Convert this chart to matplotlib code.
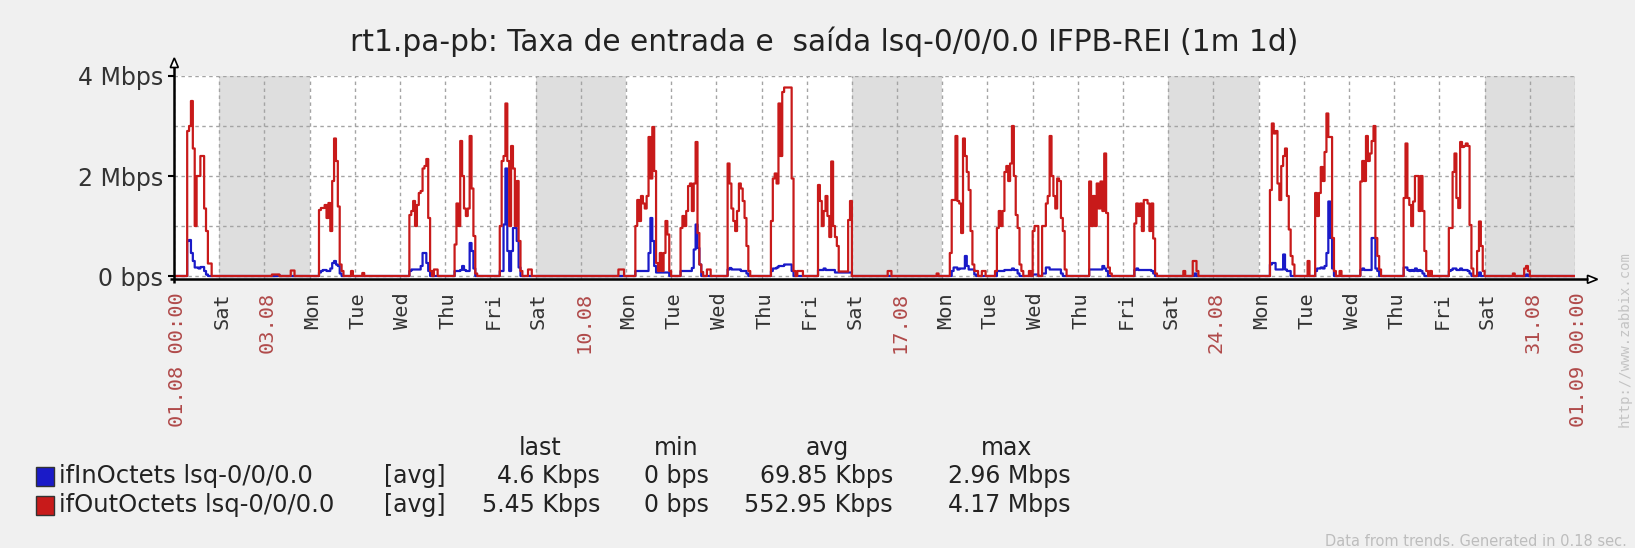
import numpy as np
import matplotlib
matplotlib.use("Agg")
import matplotlib.pyplot as plt
from matplotlib import patches, transforms

# ---- data (Mbps, hourly trend values) ----
# (day of August, first hour, ifOutOctets values, ifInOctets values)
out_01 = [2.9, 3.0, 3.5, 2.55, 1.0, 2.0, 2.0, 2.4, 2.4, 1.35, 0.9, 0.25, 0.25]
in_01 = [0.70, 0.72, 0.46, 0.30, 0.17, 0.17, 0.15, 0.18, 0.18, 0.10, 0.03, 0, 0]
out_04 = [1.32, 1.36, 1.36, 1.42, 1.16, 1.46, 0.9, 1.9, 2.75, 2.3, 1.39, 0.23, 0.1]
in_04 = [0.07, 0.10, 0.12, 0.12, 0.10, 0.10, 0.15, 0.26, 0.30, 0.23, 0.20, 0.05, 0]
out_06 = [1.22, 1.3, 1.5, 1.0, 1.42, 1.66, 1.7, 2.15, 2.2, 2.34, 1.16, 0.1, 0, 0.13, 0.13]
in_06 = [0.10, 0.13, 0.13, 0.13, 0.13, 0.13, 0.20, 0.46, 0.46, 0.26, 0.10, 0, 0, 0, 0]
out_07 = [0.63, 1.45, 1.0, 2.7, 2.0, 1.35, 1.2, 1.35, 2.8, 1.75, 0.8, 0.05]
in_07 = [0.10, 0.10, 0.10, 0.12, 0.20, 0.12, 0.10, 0.10, 0.66, 0.50, 0.15, 0]
out_08 = [1.0, 2.3, 2.4, 3.45, 2.3, 1.0, 2.6, 2.15, 1.0, 1.9, 0.7, 0.1, 0, 0, 0, 0.13, 0.13]
in_08 = [0.10, 0.10, 1.03, 2.15, 0.50, 0.10, 0.50, 0.96, 0.96, 0.70, 0.17, 0, 0, 0, 0, 0, 0]
out_11 = [1.0, 1.52, 1.1, 1.6, 1.45, 1.35, 1.6, 2.78, 1.95, 2.98, 2.1, 0.26, 0.1, 0.46, 0.1, 0.46, 1.1, 0.83, 0.1]
in_11 = [0.10, 0.10, 0.10, 0.10, 0.10, 0.10, 0.10, 0.46, 1.16, 0.70, 0.20, 0.07, 0.07, 0.07, 0.07, 0.07, 0.07, 0.07, 0]
out_12 = [0.96, 1.2, 1.0, 1.3, 1.8, 1.85, 1.3, 1.85, 2.68, 0.86, 0.23, 0.08, 0, 0, 0.13, 0.13]
in_12 = [0.10, 0.10, 0.10, 0.10, 0.10, 0.10, 0.16, 0.53, 1.03, 0.56, 0.23, 0, 0, 0, 0, 0]
out_13 = [2.25, 1.85, 1.35, 1.1, 0.9, 1.3, 1.85, 1.75, 1.5, 1.16, 0.6, 0.1]
in_13 = [0.13, 0.16, 0.13, 0.13, 0.13, 0.13, 0.13, 0.10, 0.10, 0.10, 0.05, 0]
out_14 = [1.1, 1.95, 2.05, 1.85, 3.45, 2.4, 3.68, 3.77, 3.77, 3.77, 3.77, 1.95, 0.1, 0, 0.1, 0.1, 0.1]
in_14 = [0.10, 0.15, 0.15, 0.17, 0.20, 0.20, 0.20, 0.23, 0.23, 0.23, 0.23, 0.10, 0, 0, 0, 0, 0]
out_15 = [1.82, 1.5, 1.0, 1.3, 1.6, 1.2, 0.78, 2.29, 1.0, 0.78, 0.6, 0.09, 0.09, 0.09, 0.09, 0.09, 1.12, 1.5]
in_15 = [0.12, 0.12, 0.12, 0.15, 0.12, 0.12, 0.12, 0.12, 0.12, 0.07, 0.07, 0.07, 0.07, 0.07, 0.07, 0.07, 0.07, 0.07]
out_18 = [0.46, 1.52, 1.52, 2.8, 1.5, 1.45, 0.86, 2.75, 2.4, 2.08, 1.72, 0.9, 0.23, 0.1, 0.1, 0, 0, 0.1, 0.1]
in_18 = [0, 0.10, 0.17, 0.17, 0.13, 0.15, 0.15, 0.15, 0.40, 0.20, 0.13, 0.13, 0.13, 0.03, 0, 0, 0, 0, 0]
out_19 = [0.1, 0.96, 1.3, 1.0, 1.3, 2.08, 2.2, 1.9, 2.25, 3.0, 2.0, 1.22, 0.96, 0.23, 0.1]
in_19 = [0, 0.10, 0.10, 0.10, 0.10, 0.12, 0.12, 0.12, 0.12, 0.15, 0.12, 0.12, 0.05, 0, 0]
out_20 = [0.9, 1.0, 1.0, 0, 0, 1.0, 1.0, 1.45, 1.6, 2.8, 2.0, 1.6, 1.35, 1.95, 1.9, 1.16, 0.9, 0.13]
in_20 = [0.03, 0.03, 0.03, 0, 0, 0.05, 0.05, 0.17, 0.17, 0.13, 0.13, 0.13, 0.13, 0.13, 0.13, 0.05, 0, 0]
out_21 = [1.89, 1.0, 1.6, 1.0, 1.85, 1.35, 1.89, 1.3, 2.45, 1.26, 0.17, 0.05]
in_21 = [0.13, 0.13, 0.13, 0.13, 0.13, 0.13, 0.13, 0.20, 0.15, 0.10, 0, 0]
out_22 = [1.05, 1.45, 1.2, 1.45, 0.9, 1.52, 1.52, 1.45, 0.9, 1.45, 0.75, 0.05]
in_22 = [0.12, 0.15, 0.12, 0.12, 0.12, 0.12, 0.12, 0.12, 0.12, 0.10, 0.05, 0]
out_25 = [1.72, 3.05, 2.85, 2.9, 1.85, 1.52, 2.2, 2.4, 2.55, 1.6, 0.93, 0.4, 0.23]
in_25 = [0.23, 0.26, 0.26, 0.13, 0.13, 0.13, 0.13, 0.43, 0.13, 0.10, 0.10, 0, 0]
out_26 = [0.3, 0, 0, 0, 1.66, 1.2, 1.66, 2.18, 1.9, 2.48, 3.25, 2.78, 2.78, 0.76, 0.1, 0, 0, 0.1]
in_26 = [0, 0, 0, 0, 0.10, 0.15, 0.15, 0.17, 0.15, 0.20, 0.46, 1.49, 0.76, 0.15, 0, 0, 0, 0]
out_27 = [1.89, 2.3, 1.9, 2.8, 2.3, 2.45, 2.7, 3.0, 0.76, 0.4, 0.13, 0]
in_27 = [0.12, 0.15, 0.12, 0.12, 0.12, 0.12, 0.76, 0.76, 0.15, 0.10, 0, 0]
out_28 = [1.56, 2.65, 1.56, 1.42, 1.0, 1.49, 2.0, 2.0, 1.3, 2.0, 1.3, 0.5, 0.1, 0, 0.1]
in_28 = [0.17, 0.17, 0.12, 0.10, 0.12, 0.10, 0.15, 0.10, 0.12, 0.10, 0.05, 0, 0, 0, 0]
out_29 = [0.96, 0.96, 2.08, 2.45, 1.56, 1.36, 2.68, 2.58, 2.6, 2.65, 2.6, 1.02, 0.15, 0, 0, 0.5, 1.09, 0.6, 0.1]
in_29 = [0.10, 0.12, 0.15, 0.15, 0.12, 0.12, 0.15, 0.12, 0.12, 0.12, 0.10, 0.05, 0, 0, 0, 0, 0.07, 0, 0]

work_days = [
    (1, 7, out_01, in_01), (4, 5, out_04, in_04), (6, 5, out_06, in_06),
    (7, 5, out_07, in_07), (8, 5, out_08, in_08), (11, 5, out_11, in_11),
    (12, 5, out_12, in_12), (13, 6, out_13, in_13), (14, 5, out_14, in_14),
    (15, 6, out_15, in_15), (18, 4, out_18, in_18), (19, 4, out_19, in_19),
    (20, 0, out_20, in_20), (21, 6, out_21, in_21), (22, 6, out_22, in_22),
    (25, 6, out_25, in_25), (26, 2, out_26, in_26), (27, 6, out_27, in_27),
    (28, 5, out_28, in_28), (29, 5, out_29, in_29),
]

# small isolated values (day, hour, Mbps)
out_blips = [(3, 4, 0.03), (3, 5, 0.03), (3, 6, 0.03), (3, 7, 0.03), (3, 14, 0.11),
             (3, 15, 0.11), (4, 22, 0.1), (5, 4, 0.06), (10, 20, 0.13), (10, 21, 0.13),
             (10, 22, 0.13), (16, 19, 0.1), (16, 20, 0.1), (17, 21, 0.05), (19, 22, 0.1),
             (23, 8, 0.1), (23, 13, 0.3), (23, 14, 0.3), (23, 15, 0.1), (30, 15, 0.05),
             (30, 21, 0.15), (30, 22, 0.2), (30, 23, 0.1)]
in_blips = [(3, 7, 0.02), (23, 14, 0.05), (30, 22, 0.03)]

x_labels = ["01.08 00:00", "Sat", "03.08", "Mon", "Tue", "Wed", "Thu", "Fri",
            "Sat", "10.08", "Mon", "Tue", "Wed", "Thu", "Fri",
            "Sat", "17.08", "Mon", "Tue", "Wed", "Thu", "Fri",
            "Sat", "24.08", "Mon", "Tue", "Wed", "Thu", "Fri",
            "Sat", "31.08", "01.09 00:00"]
date_labels = ["01.08 00:00", "03.08", "10.08", "17.08", "24.08", "31.08", "01.09 00:00"]
weekend_starts = [1, 8, 15, 22, 29]
y_ticks = [0, 2, 4]
y_labels = ["0 bps", "2 Mbps", "4 Mbps"]

title = "rt1.pa-pb: Taxa de entrada e  saída lsq-0/0/0.0 IFPB-REI (1m 1d)"
legend_names = ["ifInOctets lsq-0/0/0.0", "ifOutOctets lsq-0/0/0.0"]
legend_cols = ["last", "min", "avg", "max"]
legend_in = ["4.6 Kbps", "0 bps", "69.85 Kbps", "2.96 Mbps"]
legend_out = ["5.45 Kbps", "0 bps", "552.95 Kbps", "4.17 Mbps"]

RED = "#c81a1a"
BLUE = "#1a1ac8"

# ---- build hourly series ----
n_days = 31
out_s = np.zeros(n_days * 24)
in_s = np.zeros(n_days * 24)
for day, h0, o, i in work_days:
    k = (day - 1) * 24 + h0
    out_s[k:k + len(o)] = o
    in_s[k:k + len(i)] = i
for day, h, v in out_blips:
    out_s[(day - 1) * 24 + h] = v
for day, h, v in in_blips:
    in_s[(day - 1) * 24 + h] = v
t = np.arange(n_days * 24 + 1) / 24.0

# ---- figure ----
W, H = 1635, 548
fig = plt.figure(figsize=(W / 100, H / 100), dpi=100)
fig.patch.set_facecolor("#f0f0f0")

L, R, T, B = 174, 1575, 76, 279.3
ax = fig.add_axes([L / W, 1 - B / H, (R - L) / W, (B - T) / H])
ax.set_facecolor("white")
ax.set_xlim(0, 31)
ax.set_ylim(-0.066, 4.0)

for s in weekend_starts:
    ax.axvspan(s, s + 2, color="#dedede", lw=0, zorder=0)

ax.step(t, np.append(in_s, in_s[-1]), where="post", color=BLUE, lw=1.6, zorder=3)
ax.step(t, np.append(out_s, out_s[-1]), where="post", color=RED, lw=1.6, zorder=4)

ax.set_axisbelow(True)
ax.set_xticks(range(len(x_labels)))
ax.set_xticklabels(x_labels, rotation=90, family="DejaVu Sans Mono", fontsize=14.6)
ax.set_yticks(y_ticks)
ax.set_yticklabels(y_labels, fontsize=17, color="#333333")
ax.set_yticks([1, 3], minor=True)
ax.grid(True, which="both", ls=(0, (2.5, 2.5)), color="#a4a4a4", lw=1)
ax.tick_params(axis="x", length=0, pad=9)
ax.tick_params(axis="y", which="major", length=4, width=1.5, pad=4)
ax.tick_params(axis="y", which="minor", length=0)
shift = transforms.ScaledTranslation(3 / 100, 0, fig.dpi_scale_trans)
for lab in ax.get_xticklabels():
    lab.set_color("#b04a4a" if lab.get_text() in date_labels else "#333333")
    lab.set_transform(lab.get_transform() + shift)
for sp in ax.spines.values():
    sp.set_visible(False)

# ---- overlay in pixel coordinates ----
ov = fig.add_axes([0, 0, 1, 1], zorder=5)
ov.set_xlim(0, W)
ov.set_ylim(H, 0)
ov.axis("off")

ov.plot([174.3, 174.3], [283, 67], color="black", lw=1.8, solid_capstyle="butt")
ov.plot([170, 1588], [279.3, 279.3], color="black", lw=1.8, solid_capstyle="butt")
ov.add_patch(patches.Polygon([[170.3, 67.5], [178.3, 67.5], [174.3, 58]], closed=True,
                             facecolor="white", edgecolor="black", lw=1.2))
ov.add_patch(patches.Polygon([[1587.5, 275.3], [1587.5, 283.3], [1597.5, 279.3]], closed=True,
                             facecolor="white", edgecolor="black", lw=1.2))

ov.text(824, 42, title, ha="center", va="center", fontsize=21.3, color="#222222")

col_x = [540, 676, 827, 1007]
val_x = [600, 709, 893, 1071]
for name, x in zip(legend_cols, col_x):
    ov.text(x, 448, name, ha="center", va="center", fontsize=17, color="#222222")
rows = [(476, BLUE, legend_names[0], legend_in), (505, RED, legend_names[1], legend_out)]
for y, c, name, vals in rows:
    ov.add_patch(patches.Rectangle((36, y - 9.5), 18, 19, facecolor=c, edgecolor="#333333", lw=1))
    ov.text(59, y, name, ha="left", va="center", fontsize=17.5, color="#222222")
    ov.text(384, y, "[avg]", ha="left", va="center", fontsize=17, color="#222222")
    for v, x in zip(vals, val_x):
        ov.text(x, y, v, ha="right", va="center", fontsize=17, color="#222222")

ov.text(1625, 339, "http://www.zabbix.com", rotation=90, ha="center", va="center",
        family="DejaVu Sans Mono", fontsize=10, color="#c4c4c4")
ov.text(1627, 541, "Data from trends. Generated in 0.18 sec.", ha="right", va="center",
        fontsize=10.5, color="#bdbdbd")

fig.savefig("out.png", dpi=100, facecolor=fig.get_facecolor())
